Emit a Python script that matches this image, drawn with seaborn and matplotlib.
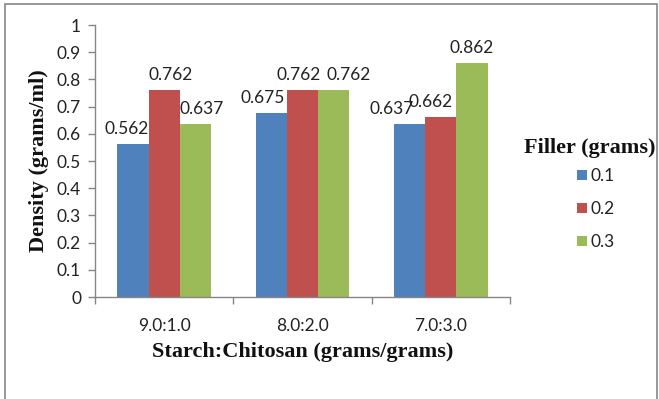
import matplotlib
matplotlib.use("Agg")
import matplotlib.pyplot as plt
import seaborn as sns
import pandas as pd
from matplotlib.patches import Rectangle

categories = ["9.0:1.0", "8.0:2.0", "7.0:3.0"]
fillers = ["0.1", "0.2", "0.3"]
vals_01 = [0.562, 0.675, 0.637]
vals_02 = [0.762, 0.762, 0.662]
vals_03 = [0.637, 0.762, 0.862]
colors = ["#4F81BD", "#C0504D", "#9BBB59"]
legend_title = "Filler (grams)"
# horizontal label nudges (pixels) mimicking the reference's label placement
label_dx = {"0.1": [-6, -9, -18], "0.2": [6, -4, -10], "0.3": [6, 15, 0]}

rows = []
for f, vals in zip(fillers, [vals_01, vals_02, vals_03]):
    for c, v in zip(categories, vals):
        rows.append({"ratio": c, "density": v, "filler": f})
df = pd.DataFrame(rows)

sns.set_theme(style="white")
plt.rcParams['font.family'] = ['Lato', 'DejaVu Sans']

W, H = 659, 399
fig = plt.figure(figsize=(W/100, H/100), dpi=100)
ax = fig.add_axes([95/W, 1-297/H, (510-95)/W, (297-25)/H])

sns.barplot(data=df, x="ratio", y="density", hue="filler", order=categories,
            hue_order=fillers, palette=colors, saturation=1, width=0.675,
            ax=ax, edgecolor="none", linewidth=0)

for f, cont in zip(fillers, ax.containers):
    for bar, v, dx in zip(cont, cont.datavalues, label_dx[f]):
        x = bar.get_x() + bar.get_width() / 2
        ax.annotate(f"{v:.3f}", (x, v), xytext=(dx * 0.72, 5), textcoords="offset points",
                    ha="center", va="bottom", fontsize=12.5, color="#222222")

ax.set_ylim(0, 1)
ax.set_xlim(-0.5, 2.5)
ax.set_yticks([i/10 for i in range(11)])
ax.set_yticklabels(["0"] + [f"{i/10:.1f}" for i in range(1, 10)] + ["1"])
ax.set_xticks(range(3))
ax.set_xticks([-0.5, 0.5, 1.5, 2.5], minor=True)
ax.tick_params(axis="x", which="major", length=0, labelsize=12.5, pad=15, labelcolor="#222222")
ax.tick_params(axis="x", which="minor", length=5, width=1, color="#868686", direction="out", bottom=True)
ax.tick_params(axis="y", length=5, width=1, color="#868686", direction="out", left=True,
               labelsize=12.5, labelcolor="#222222", pad=5)

for s in ["top", "right"]:
    ax.spines[s].set_visible(False)
for s in ["left", "bottom"]:
    ax.spines[s].set_color("#868686")
    ax.spines[s].set_linewidth(1)

serif = ["Liberation Serif", "DejaVu Serif"]
ax.set_xlabel("Starch:Chitosan (grams/grams)", fontsize=16, fontweight="bold",
              family=serif, color="#111111", labelpad=6)
ax.set_ylabel("Density (grams/ml)", fontsize=16, fontweight="bold",
              family=serif, color="#111111", labelpad=6)

handles, labels = ax.get_legend_handles_labels()
leg = ax.legend(handles, labels, loc="upper left",
                bbox_to_anchor=(577/W, 1-168/H), bbox_transform=fig.transFigure,
                frameon=False, fontsize=12.5, borderpad=0, borderaxespad=0,
                handlelength=0.55, handleheight=0.55, handletextpad=0.25,
                labelspacing=0.98)
for t in leg.get_texts():
    t.set_color("#222222")
fig.text(590/W, 1-148/H, legend_title, ha="center", va="center", fontsize=16,
         fontweight="bold", family=serif, color="#111111")

fig.patches.append(Rectangle((5/W, -5/H), 652/W, 400/H, transform=fig.transFigure,
                             fill=False, edgecolor="#868686", linewidth=1.2, clip_on=False))

fig.savefig("out.png", dpi=100)
